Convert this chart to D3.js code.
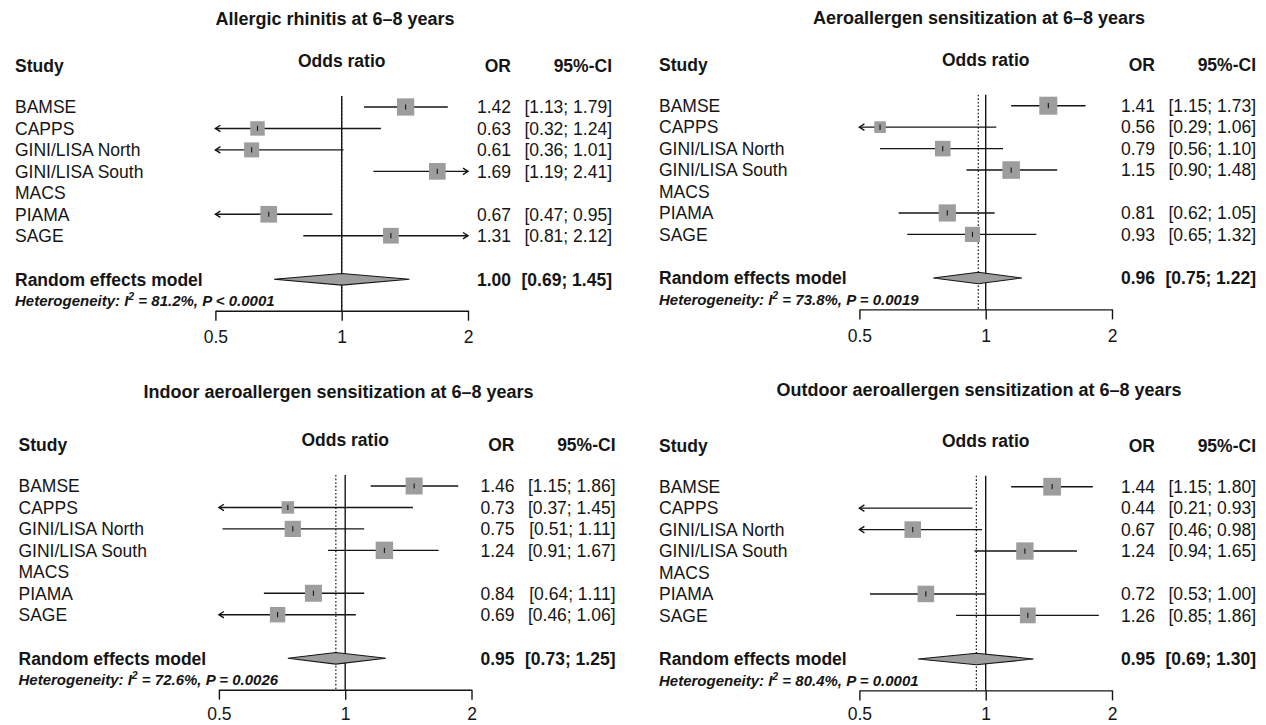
<!DOCTYPE html>
<html>
<head>
<meta charset="utf-8">
<script src="https://cdn.jsdelivr.net/npm/d3@7"></script>
<style>
  html, body { margin: 0; padding: 0; background: #fff; }
  svg { display: block; font-family: "Liberation Sans", Arial, sans-serif; }
</style>
</head>
<body>
<svg id="chart" width="1266" height="725"></svg>
<script>
// ---------------- data ----------------
const studies = ["BAMSE", "CAPPS", "GINI/LISA North", "GINI/LISA South", "MACS", "PIAMA", "SAGE"];
const panelTitles = [
  "Allergic rhinitis at 6\u20138 years",
  "Aeroallergen sensitization at 6\u20138 years",
  "Indoor aeroallergen sensitization at 6\u20138 years",
  "Outdoor aeroallergen sensitization at 6\u20138 years"
];

const rhinitisOR = [1.42, 0.63, 0.61, 1.69, null, 0.67, 1.31];
const rhinitisLo = [1.13, 0.32, 0.36, 1.19, null, 0.47, 0.81];
const rhinitisHi = [1.79, 1.24, 1.01, 2.41, null, 0.95, 2.12];
const rhinitisW  = [19.4, 13.6, 14.7, 18.1, null, 18.1, 16.1];

const aeroOR = [1.41, 0.56, 0.79, 1.15, null, 0.81, 0.93];
const aeroLo = [1.15, 0.29, 0.56, 0.90, null, 0.62, 0.65];
const aeroHi = [1.73, 1.06, 1.10, 1.48, null, 1.05, 1.32];
const aeroW  = [21.1, 8.8, 15.8, 20.1, null, 19.2, 15.0];

const indoorOR = [1.46, 0.73, 0.75, 1.24, null, 0.84, 0.69];
const indoorLo = [1.15, 0.37, 0.51, 0.91, null, 0.64, 0.46];
const indoorHi = [1.86, 1.45, 1.11, 1.67, null, 1.11, 1.06];
const indoorW  = [18.8, 10.1, 17.1, 19.8, null, 18.8, 15.4];

const outdoorOR = [1.44, 0.44, 0.67, 1.24, null, 0.72, 1.26];
const outdoorLo = [1.15, 0.21, 0.46, 0.94, null, 0.53, 0.85];
const outdoorHi = [1.80, 0.93, 0.98, 1.65, null, 1.00, 1.86];
const outdoorW  = [20.5, 8.0, 17.8, 19.6, null, 17.8, 16.2];

const randomOR = [1.00, 0.96, 0.95, 0.95];
const randomLo = [0.69, 0.75, 0.73, 0.69];
const randomHi = [1.45, 1.22, 1.25, 1.30];
const hetI2    = ["81.2%", "73.8%", "72.6%", "80.4%"];
const hetP     = ["P < 0.0001", "P = 0.0019", "P = 0.0026", "P = 0.0001"];

const tickValues = [0.5, 1, 2];

// ---------------- layout ----------------
const panelData = [
  {or: rhinitisOR, lo: rhinitisLo, hi: rhinitisHi, w: rhinitisW},
  {or: aeroOR, lo: aeroLo, hi: aeroHi, w: aeroW},
  {or: indoorOR, lo: indoorLo, hi: indoorHi, w: indoorW},
  {or: outdoorOR, lo: outdoorLo, hi: outdoorHi, w: outdoorW}
];
const panelLayout = [
  {x0: 15,   row0: 107,   titleY: 19,   tickPad: 10},
  {x0: 659,  row0: 105.7, titleY: 17.3, tickPad: 10},
  {x0: 18.5, row0: 486,   titleY: 392,  tickPad: 7.5},
  {x0: 659,  row0: 486.7, titleY: 390,  tickPad: 7}
];

const FS = 17.5;
const rowStep = 21.45;
const halfSpan = 126.3;     // px from 1 to 2 (one doubling)
const oneOffset = 326.7;    // x of OR=1 from study column
const orRight = 496;        // right edge of OR column
const ciRight = 597;        // right edge of CI column
const ink = "#151515";
const boxFill = "#9d9d9d";

const allW = [].concat(rhinitisW, aeroW, indoorW, outdoorW).filter(v => v != null);
const sizeScale = d3.scaleSqrt().domain([0, d3.max(allW)]).range([0, 18]);
const f2 = d3.format(".2f");

const svg = d3.select("#chart");

panelLayout.forEach((L, p) => {
  const D = panelData[p];
  const g = svg.append("g");
  const xOne = L.x0 + oneOffset;
  const x = d3.scaleLog().domain([0.5, 2]).range([xOne - halfSpan, xOne + halfSpan]);
  const rowY = i => L.row0 + i * rowStep;
  const reY = L.row0 + 172.3;
  const hetY = L.row0 + 193.5;
  const axisY = L.row0 + 203.7;
  const lineTop = L.row0 - 11;

  // title
  g.append("text").attr("x", L.x0 + 320).attr("y", L.titleY).attr("dy", "0.36em")
    .attr("text-anchor", "middle").attr("font-weight", "bold").attr("font-size", 18)
    .attr("fill", ink).text(panelTitles[p]);

  // headers
  g.append("text").attr("x", xOne).attr("y", L.row0 - 46).attr("dy", "0.36em")
    .attr("text-anchor", "middle").attr("font-weight", "bold").attr("font-size", FS)
    .attr("fill", ink).text("Odds ratio");
  g.append("text").attr("x", L.x0).attr("y", L.row0 - 41.5).attr("dy", "0.36em")
    .attr("font-weight", "bold").attr("font-size", FS).attr("fill", ink).text("Study");
  g.append("text").attr("x", L.x0 + orRight).attr("y", L.row0 - 41.5).attr("dy", "0.36em")
    .attr("text-anchor", "end").attr("font-weight", "bold").attr("font-size", FS).attr("fill", ink).text("OR");
  g.append("text").attr("x", L.x0 + ciRight).attr("y", L.row0 - 41.5).attr("dy", "0.36em")
    .attr("text-anchor", "end").attr("font-weight", "bold").attr("font-size", FS).attr("fill", ink).text("95%-CI");

  // reference lines
  g.append("line").attr("x1", x(1)).attr("x2", x(1)).attr("y1", lineTop).attr("y2", axisY)
    .attr("stroke", ink).attr("stroke-width", 1.4);
  g.append("line").attr("x1", x(randomOR[p])).attr("x2", x(randomOR[p])).attr("y1", lineTop).attr("y2", axisY)
    .attr("stroke", ink).attr("stroke-width", 1.2).attr("stroke-dasharray", "1.6,2");

  // study rows
  studies.forEach((name, i) => {
    const y = rowY(i);
    g.append("text").attr("x", L.x0).attr("y", y).attr("dy", "0.36em")
      .attr("font-size", FS).attr("fill", ink).text(name);
    const o = D.or[i];
    if (o == null) return;
    const lo = D.lo[i], hi = D.hi[i];
    const xl = x(Math.max(lo, 0.5)), xr = x(Math.min(hi, 2));
    g.append("line").attr("x1", xl).attr("x2", xr).attr("y1", y).attr("y2", y)
      .attr("stroke", ink).attr("stroke-width", 1.4);
    if (lo < 0.5) {
      g.append("path").attr("d", `M${xl + 5},${y - 3.2}L${xl},${y}L${xl + 5},${y + 3.2}`)
        .attr("fill", "none").attr("stroke", ink).attr("stroke-width", 1.4);
    }
    if (hi > 2) {
      g.append("path").attr("d", `M${xr - 5},${y - 3.2}L${xr},${y}L${xr - 5},${y + 3.2}`)
        .attr("fill", "none").attr("stroke", ink).attr("stroke-width", 1.4);
    }
    if (o >= 0.5 && o <= 2) {
      const s = sizeScale(D.w[i]);
      g.append("rect").attr("x", x(o) - s / 2).attr("y", y - s / 2).attr("width", s).attr("height", s)
        .attr("fill", boxFill);
      g.append("line").attr("x1", x(o)).attr("x2", x(o)).attr("y1", y - 2.6).attr("y2", y + 2.6)
        .attr("stroke", ink).attr("stroke-width", 1.1);
    }
    g.append("text").attr("x", L.x0 + orRight).attr("y", y).attr("dy", "0.36em")
      .attr("text-anchor", "end").attr("font-size", FS).attr("fill", ink).text(f2(o));
    g.append("text").attr("x", L.x0 + ciRight).attr("y", y).attr("dy", "0.36em")
      .attr("text-anchor", "end").attr("font-size", FS).attr("fill", ink)
      .text(`[${f2(lo)}; ${f2(hi)}]`);
  });

  // random effects model
  g.append("text").attr("x", L.x0).attr("y", reY).attr("dy", "0.36em")
    .attr("font-weight", "bold").attr("font-size", FS).attr("fill", ink).text("Random effects model");
  const dh = 5.8;
  const xm = x(randomOR[p]), xlo = x(randomLo[p]), xhi = x(randomHi[p]);
  g.append("path").attr("d", `M${xlo},${reY}L${xm},${reY - dh}L${xhi},${reY}L${xm},${reY + dh}Z`)
    .attr("fill", boxFill).attr("stroke", ink).attr("stroke-width", 1.1);
  g.append("text").attr("x", L.x0 + orRight).attr("y", reY).attr("dy", "0.36em")
    .attr("text-anchor", "end").attr("font-weight", "bold").attr("font-size", FS).attr("fill", ink)
    .text(f2(randomOR[p]));
  g.append("text").attr("x", L.x0 + ciRight).attr("y", reY).attr("dy", "0.36em")
    .attr("text-anchor", "end").attr("font-weight", "bold").attr("font-size", FS).attr("fill", ink)
    .text(`[${f2(randomLo[p])}; ${f2(randomHi[p])}]`);

  // heterogeneity
  const hetBase = hetY + 5.4;
  const het = g.append("text").attr("x", L.x0).attr("y", hetBase)
    .attr("font-weight", "bold").attr("font-style", "italic").attr("font-size", 15).attr("fill", ink);
  het.append("tspan").text("Heterogeneity: I");
  het.append("tspan").attr("font-size", 10.5).attr("y", hetBase - 5.5).text("2");
  het.append("tspan").attr("y", hetBase).text(` = ${hetI2[p]}, ${hetP[p]}`);

  // axis
  const axis = d3.axisBottom(x).tickValues(tickValues).tickSize(10).tickSizeOuter(0).tickPadding(L.tickPad)
    .tickFormat(d3.format(""));
  const ax = g.append("g").attr("transform", `translate(0,${axisY})`).call(axis);
  ax.select(".domain").attr("stroke", ink).attr("stroke-width", 1.4);
  ax.selectAll(".tick line").attr("stroke", ink).attr("stroke-width", 1.4);
  ax.selectAll(".tick text").attr("font-size", FS).attr("fill", ink)
    .attr("font-family", "'Liberation Sans', Arial, sans-serif");
});
</script>
</body>
</html>
